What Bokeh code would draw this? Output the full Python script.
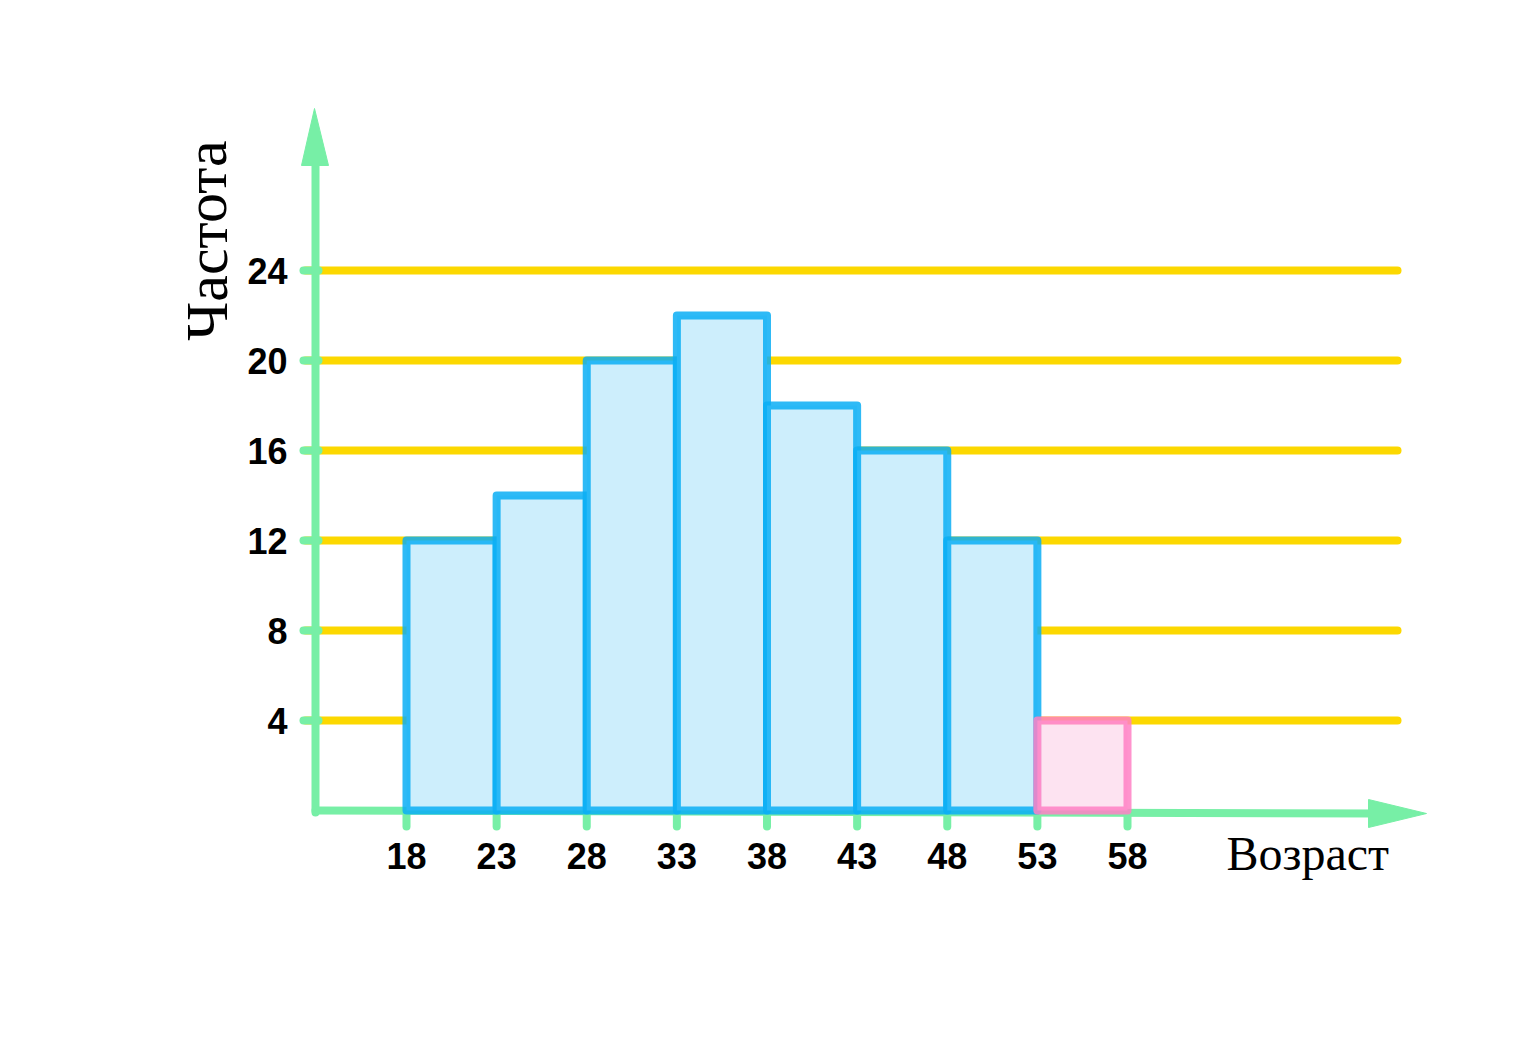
from bokeh.plotting import figure
from bokeh.models import Range1d
from bokeh.core.properties import value
from bokeh.embed import file_html
from bokeh.resources import INLINE

# Data
bin_edges = [18, 23, 28, 33, 38, 43, 48, 53, 58]
frequencies = [12, 14, 20, 22, 18, 16, 12, 4]
highlight = [False, False, False, False, False, False, False, True]
y_ticks = [4, 8, 12, 16, 20, 24]
x_tick_labels = ["18", "23", "28", "33", "38", "43", "48", "53", "58"]
y_tick_labels = ["4", "8", "12", "16", "20", "24"]
x_title = "Возраст"
y_title = "Частота"

W, H = 1536, 1044
# pixel mapping: x=18 -> 406 px, 18.025 px/unit ; y=0 -> 810 px, 22.5 px/unit
sx = 18.025
sy = 22.5
x0 = 18 - 406 / sx
x1 = 18 + (W - 406) / sx
y0 = (810 - H) / sy
y1 = 810 / sy

def px2x(px):
    return 18 + (px - 406) / sx

def py2y(py):
    return (810 - py) / sy

p = figure(width=W, height=H, output_backend="svg", toolbar_location=None,
           x_range=Range1d(x0, x1), y_range=Range1d(y0, y1),
           min_border=0, min_border_left=0, min_border_right=0,
           min_border_top=0, min_border_bottom=0)
p.axis.visible = False
p.grid.visible = False
p.outline_line_color = None
p.background_fill_color = "white"
p.border_fill_color = "white"

GREEN = "#77EFA6"
YELLOW = "#FCD800"
BLUE = "#0AAEF5"
BLUE_FILL = "#CDEEFC"
PINK = "#FF80C4"
PINK_FILL = "#FDE0F0"

# yellow gridlines
gx0, gx1 = px2x(305), px2x(1397)
p.segment(x0=[gx0] * len(y_ticks), y0=y_ticks, x1=[gx1] * len(y_ticks), y1=y_ticks,
          line_color=YELLOW, line_width=8, line_cap="round")

# y tick stubs
p.segment(x0=[px2x(303)] * len(y_ticks), y0=y_ticks, x1=[px2x(318)] * len(y_ticks), y1=y_ticks,
          line_color=GREEN, line_width=8, line_cap="round")

# axes
yaxis_x = px2x(315)
p.segment(x0=[yaxis_x], y0=[py2y(812)], x1=[yaxis_x], y1=[py2y(160)],
          line_color=GREEN, line_width=8, line_cap="round")
p.segment(x0=[yaxis_x], y0=[py2y(810)], x1=[px2x(1380)], y1=[py2y(813)],
          line_color=GREEN, line_width=8, line_cap="round")
# arrow heads
p.patch(x=[px2x(301), px2x(314), px2x(328)], y=[py2y(165), py2y(108), py2y(165)],
        fill_color=GREEN, line_color=GREEN)
p.patch(x=[px2x(1368), px2x(1426), px2x(1368)], y=[py2y(799), py2y(813), py2y(827)],
        fill_color=GREEN, line_color=GREEN)

# x tick stubs
p.segment(x0=bin_edges, y0=[py2y(813)] * len(bin_edges), x1=bin_edges, y1=[py2y(826)] * len(bin_edges),
          line_color=GREEN, line_width=8, line_cap="round")

# bars
lefts = bin_edges[:-1]
rights = bin_edges[1:]
blue_idx = [i for i, h in enumerate(highlight) if not h]
pink_idx = [i for i, h in enumerate(highlight) if h]
p.quad(left=[lefts[i] for i in blue_idx], right=[rights[i] for i in blue_idx],
       bottom=0, top=[frequencies[i] for i in blue_idx],
       fill_color=BLUE_FILL, line_color=BLUE, line_alpha=0.85, line_width=8,
       line_join="round")
p.quad(left=[lefts[i] for i in pink_idx], right=[rights[i] for i in pink_idx],
       bottom=0, top=[frequencies[i] for i in pink_idx],
       fill_color=PINK_FILL, fill_alpha=0.9, line_color=PINK, line_alpha=0.85, line_width=8,
       line_join="round")

# tick labels
p.text(x=bin_edges, y=[py2y(855)] * len(bin_edges), text=x_tick_labels,
       text_align="center", text_baseline="middle",
       text_font=value("Liberation Sans"), text_font_size="36px",
       text_font_style="bold", text_color="black")
p.text(x=[px2x(287)] * len(y_ticks), y=y_ticks, text=y_tick_labels,
       text_align="right", text_baseline="middle",
       text_font=value("Liberation Sans"), text_font_size="36px",
       text_font_style="bold", text_color="black")

# titles
p.text(x=[px2x(1226)], y=[py2y(853)], text=[x_title], text_align="left",
       text_baseline="middle", text_font=value("Liberation Serif"),
       text_font_size="48px", text_color="black")
p.text(x=[px2x(206)], y=[py2y(240)], text=[y_title], text_align="center",
       text_baseline="middle", angle=1.5708, text_font=value("Liberation Serif"),
       text_font_size="60px", text_color="black")

open("out.html", "w").write(file_html(p, INLINE))
